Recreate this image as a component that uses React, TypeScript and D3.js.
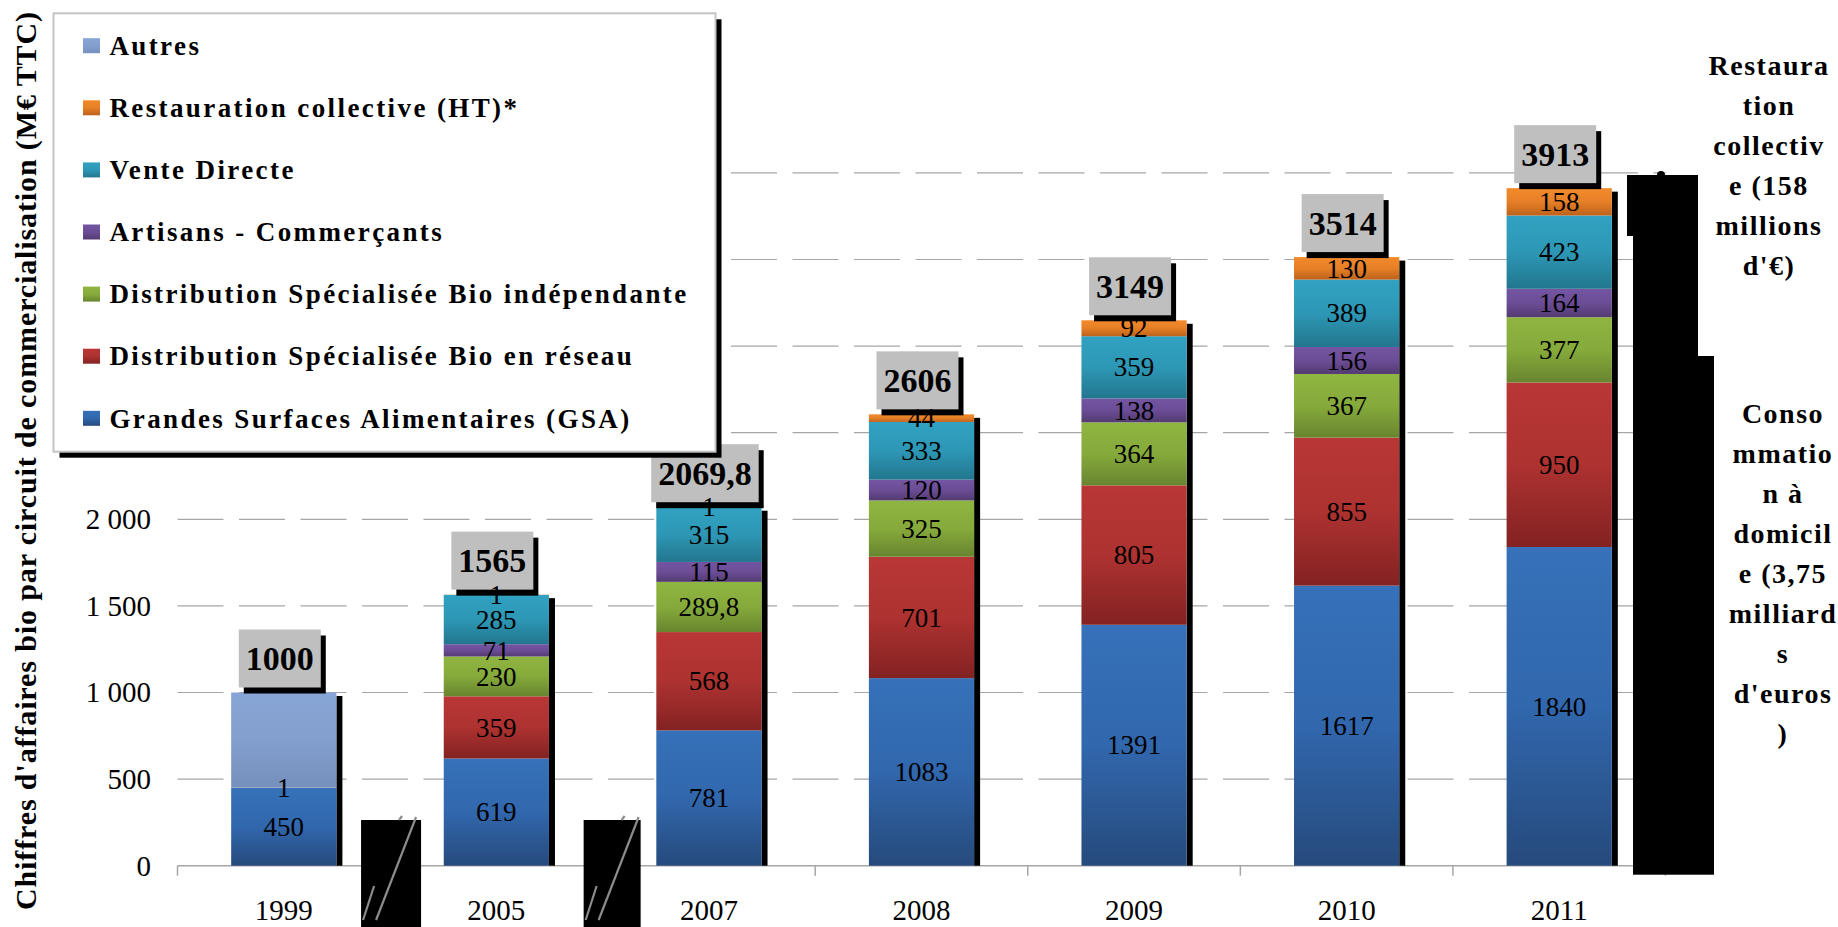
import React, { useEffect, useRef } from 'react';
import * as d3 from 'd3';

// data (M€ TTC)
const years = ['1999', '2005', '2007', '2008', '2009', '2010', '2011'];
const gsa = [450, 619, 781, 1083, 1391, 1617, 1840];
const reseau = [0, 359, 568, 701, 805, 855, 950];
const independante = [0, 230, 289.8, 325, 364, 367, 377];
const artisans = [0, 71, 115, 120, 138, 156, 164];
const venteDirecte = [0, 285, 315, 333, 359, 389, 423];
const restauration = [1, 1, 1, 44, 92, 130, 158];
const autres = [549, 0, 0, 0, 0, 0, 0];
const totals = ['1000', '1565', '2069,8', '2606', '3149', '3514', '3913'];
const gridTicks = [500, 1000, 1500, 2000, 2500, 3000, 3500, 4000];
// labels above 2000 sit behind the legend, so only these show
const tickLabels = [0, 500, 1000, 1500, 2000];

const restoNote = ['Restaura', 'tion', 'collectiv', 'e (158', 'millions', "d'€)"];
const consoNote = ['Conso', 'mmatio', 'n à', 'domicil', 'e (3,75', 'milliard', 's', "d'euros", ')'];
const yTitle = "Chiffres d'affaires bio par circuit de commercialisation (M€ TTC)";

// stacking order, bottom to top
const series = [
  { key: 'gsa', name: 'Grandes Surfaces Alimentaires (GSA)', values: gsa, colors: ['#3671b9', '#3167ad', '#264a7c'], label: true },
  { key: 'reseau', name: 'Distribution Spécialisée Bio en réseau', values: reseau, colors: ['#b93735', '#ad3230', '#832222'], label: true },
  { key: 'indep', name: 'Distribution Spécialisée Bio indépendante', values: independante, colors: ['#8fb541', '#86aa3b', '#68852f'], label: true },
  { key: 'artisans', name: 'Artisans - Commerçants', values: artisans, colors: ['#7455a2', '#6b4d96', '#533b71'], label: true },
  { key: 'vente', name: 'Vente Directe', values: venteDirecte, colors: ['#31a2c2', '#2d97b5', '#22768e'], label: true },
  { key: 'resto', name: 'Restauration collective (HT)*', values: restauration, colors: ['#f38b2c', '#e67f26', '#bd621b'], label: true },
  { key: 'autres', name: 'Autres', values: autres, colors: ['#87a5d6', '#839fcd', '#7690bd'], label: false },
];

const W = 1838, H = 927;
const SERIF = '"Liberation Serif", "Times New Roman", serif';

const fmtValue = v => String(v).replace('.', ',');
const fmtTick = v => v >= 1000 ? `${Math.floor(v / 1000)} ${String(v % 1000).padStart(3, '0')}` : String(v);

export default function App() {
  const ref = useRef(null);

  useEffect(() => {
    const svg = d3.select(ref.current);
    svg.selectAll('*').remove();

    const x = d3.scaleBand().domain(years).range([177.5, 1665.5]).paddingInner(0.505).paddingOuter(0.2525);
    const y = d3.scaleLinear().domain([0, 4000]).range([865.7, 172.9]);
    const bw = x.bandwidth();

    // gradients
    const defs = svg.append('defs');
    series.forEach(s => {
      const g = defs.append('linearGradient').attr('id', `g-${s.key}`)
        .attr('x1', 0).attr('y1', 0).attr('x2', 0).attr('y2', 1);
      g.append('stop').attr('offset', '0').attr('stop-color', s.colors[0]);
      g.append('stop').attr('offset', '0.5').attr('stop-color', s.colors[1]);
      g.append('stop').attr('offset', '1').attr('stop-color', s.colors[2]);
    });

    svg.append('rect').attr('width', W).attr('height', H).attr('fill', '#fff');

    const [x0, x1] = x.range();

    // gridlines
    svg.append('g').selectAll('line').data(gridTicks).join('line')
      .attr('x1', x0).attr('x2', x1).attr('y1', d => y(d)).attr('y2', d => y(d))
      .attr('stroke', '#a6a6a6').attr('stroke-width', 1.2).attr('stroke-dasharray', '46,15.5');

    // x axis line and category ticks
    svg.append('line').attr('x1', x0).attr('x2', x1).attr('y1', y(0)).attr('y2', y(0))
      .attr('stroke', '#a6a6a6').attr('stroke-width', 1.5);
    svg.append('g').selectAll('line').data(d3.range(years.length + 1)).join('line')
      .attr('x1', i => x0 + i * x.step()).attr('x2', i => x0 + i * x.step())
      .attr('y1', y(0)).attr('y2', y(0) + 10)
      .attr('stroke', '#a6a6a6').attr('stroke-width', 1.5);

    // y tick labels
    svg.append('g').selectAll('text').data(tickLabels).join('text')
      .attr('x', 151).attr('y', d => y(d)).attr('dy', '0.34em')
      .attr('text-anchor', 'end').attr('font-family', SERIF).attr('font-size', 29)
      .text(fmtTick);

    // x labels
    svg.append('g').selectAll('text').data(years).join('text')
      .attr('x', d => x(d) + bw / 2).attr('y', 920)
      .attr('text-anchor', 'middle').attr('font-family', SERIF).attr('font-size', 29)
      .text(d => d);

    // stacked bars
    const rows = years.map((yr, i) => {
      const r = { year: yr, idx: i };
      series.forEach(s => { r[s.key] = s.values[i]; });
      return r;
    });
    const stacked = d3.stack().keys(series.map(s => s.key))(rows);
    const sums = rows.map(r => d3.sum(series, s => r[s.key]));

    // bar shadows
    svg.append('g').selectAll('rect').data(years).join('rect')
      .attr('x', d => x(d) + bw).attr('width', 6)
      .attr('y', (d, i) => y(sums[i]) + 3.5)
      .attr('height', (d, i) => y(0) - y(sums[i]) - 3.5)
      .attr('fill', '#000');

    const bars = svg.append('g');
    stacked.forEach(layer => {
      bars.append('g').selectAll('rect').data(layer.filter(d => d[1] > d[0])).join('rect')
        .attr('x', d => x(d.data.year)).attr('width', bw)
        .attr('y', d => y(d[1])).attr('height', d => y(d[0]) - y(d[1]))
        .attr('fill', `url(#g-${layer.key})`);
    });

    // total boxes
    const boxes = svg.append('g');
    years.forEach((yr, i) => {
      const top = y(sums[i]);
      const cx = x(yr) + bw / 2 - 4;
      const g = boxes.append('g');
      const t = g.append('text').attr('x', cx).attr('y', top - 34 + 11.6)
        .attr('text-anchor', 'middle').attr('font-family', SERIF).attr('font-size', 34)
        .attr('font-weight', 'bold').text(totals[i]);
      const tw = t.node().getComputedTextLength();
      const bwid = tw + 14;
      g.insert('rect', 'text').attr('x', cx - bwid / 2).attr('y', top - 63).attr('width', bwid).attr('height', 58)
        .attr('fill', '#bfbfbf');
      g.insert('rect', 'rect').attr('x', cx - bwid / 2 + 5).attr('y', top - 57).attr('width', bwid).attr('height', 58)
        .attr('fill', '#000');
    });

    // segment labels
    const labels = svg.append('g');
    stacked.forEach((layer, li) => {
      const s = series[li];
      if (!s.label) return;
      labels.append('g').selectAll('text').data(layer.filter(d => d[1] > d[0])).join('text')
        .attr('x', d => x(d.data.year) + bw / 2)
        .attr('y', d => y((d[0] + d[1]) / 2)).attr('dy', '0.34em')
        .attr('text-anchor', 'middle').attr('font-family', SERIF).attr('font-size', 27)
        .text(d => fmtValue(s.values[d.data.idx]));
    });

    // axis break markers between 1999/2005 and 2005/2007
    const breaks = [{ after: 0, shift: -29, w: 60 }, { after: 1, shift: -19, w: 57 }];
    breaks.forEach(b => {
      const bx = x0 + (b.after + 1) * x.step() + b.shift;
      const g = svg.append('g');
      g.append('rect').attr('x', bx).attr('y', 820).attr('width', b.w).attr('height', H - 820).attr('fill', '#000');
      const ln = [[bx + 15, 920, bx + 55, 817], [bx + 2, 920, bx + 13, 886], [bx + 38, 820, bx + 41, 816]];
      ln.forEach(l => g.append('line').attr('x1', l[0]).attr('y1', l[1]).attr('x2', l[2]).attr('y2', l[3])
        .attr('stroke', '#8c8c8c').attr('stroke-width', 2.2));
    });

    // black block on the right
    const blk = svg.append('g').attr('fill', '#000');
    blk.append('rect').attr('x', 1627).attr('y', 175).attr('width', 71).attr('height', 61);
    blk.append('rect').attr('x', 1633).attr('y', 235).attr('width', 65).attr('height', 122);
    blk.append('rect').attr('x', 1633).attr('y', 356).attr('width', 81).attr('height', y(0) + 9 - 356);
    blk.append('circle').attr('cx', 1661).attr('cy', 175).attr('r', 4);

    // right notes
    const note = (lines, cx, y0) => {
      svg.append('g').selectAll('text').data(lines).join('text')
        .attr('x', cx).attr('y', (d, i) => y0 + i * 40)
        .attr('text-anchor', 'middle').attr('font-family', SERIF).attr('font-size', 28)
        .attr('font-weight', 'bold').attr('letter-spacing', 1.5).text(d => d);
    };
    note(restoNote, 1769, 75);
    note(consoNote, 1783, 423);

    // legend
    const lg = svg.append('g');
    lg.append('rect').attr('x', 59.5).attr('y', 19.3).attr('width', 662).attr('height', 438.4).attr('fill', '#000');
    lg.append('rect').attr('x', 53.5).attr('y', 13.3).attr('width', 662).attr('height', 438.4)
      .attr('fill', '#fff').attr('stroke', '#c4c4c4').attr('stroke-width', 2);
    series.slice().reverse().forEach((s, i) => {
      const cy = 45.7 + i * 62.1;
      lg.append('rect').attr('x', 83).attr('y', cy - 7.5).attr('width', 17).attr('height', 15)
        .attr('fill', `url(#g-${s.key})`);
      lg.append('text').attr('x', 109.4).attr('y', cy + 9.2)
        .attr('font-family', SERIF).attr('font-size', 27).attr('font-weight', 'bold')
        .attr('letter-spacing', 2.4).text(s.name);
    });

    // y axis title
    svg.append('text').attr('transform', 'translate(36,461) rotate(-90)')
      .attr('text-anchor', 'middle').attr('font-family', SERIF).attr('font-size', 30)
      .attr('font-weight', 'bold').attr('textLength', 898).attr('lengthAdjust', 'spacing')
      .text(yTitle);
  }, []);

  return (
    <svg ref={ref} width={W} height={H}
      style={{ position: 'absolute', left: 0, top: 0, display: 'block' }} />
  );
}
